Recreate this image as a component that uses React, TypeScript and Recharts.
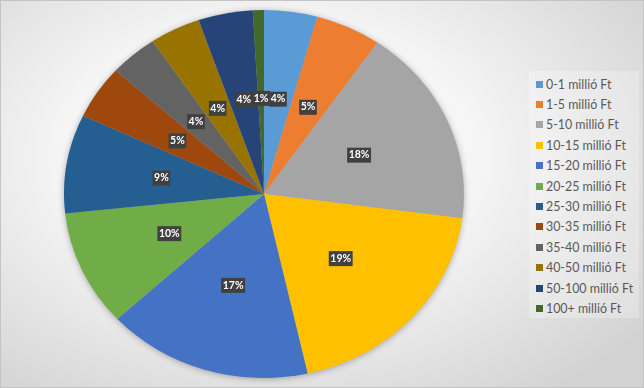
import { PieChart, Pie, Cell, Legend } from 'recharts';

const categories = [
  '0-1 millió Ft',
  '1-5 millió Ft',
  '5-10 millió Ft',
  '10-15 millió Ft',
  '15-20 millió Ft',
  '20-25 millió Ft',
  '25-30 millió Ft',
  '30-35 millió Ft',
  '35-40 millió Ft',
  '40-50 millió Ft',
  '50-100 millió Ft',
  '100+ millió Ft',
];
const shares = [4.3, 5.3, 17.5, 19.4, 16.6, 10.2, 8.7, 4.7, 3.9, 4.1, 4.4, 0.9];
const colors = [
  '#5B9BD5', '#ED7D31', '#A5A5A5', '#FFC000', '#4472C4', '#70AD47',
  '#255E91', '#9E480E', '#636363', '#997300', '#264478', '#43682B',
];

const data = categories.map((name, i) => ({ name, value: shares[i] }));

// Excel drew the pie a bit wider than tall
const STRETCH = 1.087;
const CX = 263;
const CY = 193;
const RAD = Math.PI / 180;

function renderLabel(props: any) {
  const { cx, cy, midAngle, outerRadius, value } = props;
  const r = outerRadius * 0.52;
  const x = cx + r * Math.cos(-midAngle * RAD) * STRETCH;
  const y = cy + r * Math.sin(-midAngle * RAD);
  const text = `${Math.round(value)}%`;
  const w = text.length * 6.3 + 5;
  return (
    <g>
      <rect x={x - w / 2} y={y - 7.5} width={w} height={15} fill="#404040" />
      <text
        x={x}
        y={y + 0.5}
        fill="#ffffff"
        fontSize={10.5}
        fontWeight={700}
        fontFamily="Lato, sans-serif"
        textAnchor="middle"
        dominantBaseline="middle"
      >
        {text}
      </text>
    </g>
  );
}

function renderLegend() {
  return (
    <div
      style={{
        width: 110,
        height: 247,
        background: 'rgba(255,255,255,0.25)',
        paddingTop: 3,
        boxSizing: 'border-box',
      }}
    >
      {categories.map((name, i) => (
        <div
          key={name}
          style={{
            display: 'flex',
            alignItems: 'center',
            height: 20.4,
            paddingLeft: 7,
            fontFamily: 'Lato, sans-serif',
            fontSize: 12.4,
            color: '#595959',
            whiteSpace: 'nowrap',
          }}
        >
          <span
            style={{
              display: 'inline-block',
              width: 7,
              height: 7,
              background: colors[i],
              marginRight: 3,
            }}
          />
          {name}
        </div>
      ))}
    </div>
  );
}

export default function App() {
  return (
    <div
      style={{
        position: 'absolute',
        left: 0,
        top: 0,
        width: 644,
        height: 388,
        boxSizing: 'border-box',
        border: '1px solid #c4c4c4',
        background:
          'radial-gradient(ellipse 72% 78% at 42% 40%, #ffffff 0%, #f5f5f5 45%, #d2d2d2 100%)',
      }}
    >
      <style>{`
        .recharts-pie-sector { transform: scaleX(${STRETCH}); transform-origin: ${CX}px ${CY}px; }
        .recharts-pie { filter: drop-shadow(0 1px 3px rgba(0,0,0,0.3)); }
      `}</style>
      <PieChart
        width={642}
        height={386}
        margin={{ top: 0, right: 0, bottom: 0, left: 0 }}
        style={{ position: 'absolute', left: 0, top: 0 }}
      >
        <Pie
          data={data}
          dataKey="value"
          nameKey="name"
          cx={CX}
          cy={CY}
          outerRadius={184}
          startAngle={90}
          endAngle={-270}
          stroke="none"
          label={renderLabel}
          labelLine={false}
          isAnimationActive={false}
        >
          {data.map((d, i) => (
            <Cell key={d.name} fill={colors[i]} />
          ))}
        </Pie>
        <Legend
          content={renderLegend}
          wrapperStyle={{ left: 528, top: 70, width: 110, bottom: 'auto', right: 'auto' }}
        />
      </PieChart>
    </div>
  );
}
